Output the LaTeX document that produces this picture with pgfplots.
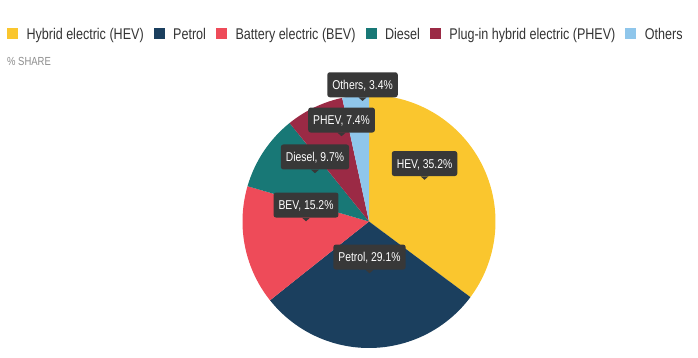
\documentclass[border=0pt]{standalone}
\usepackage{pgfplots}
\pgfplotsset{compat=1.18}
\usepackage{pgfplotstable}
\usepackage{fontspec}
\setmainfont[FakeStretch=0.81]{Liberation Sans}

\definecolor{col0}{HTML}{FAC62E}
\definecolor{col1}{HTML}{1B3F5E}
\definecolor{col2}{HTML}{EE4B59}
\definecolor{col3}{HTML}{187876}
\definecolor{col4}{HTML}{9B2A45}
\definecolor{col5}{HTML}{8FC6EB}
\definecolor{lblbg}{HTML}{383838}
\definecolor{legtext}{HTML}{333333}
\definecolor{sharegray}{HTML}{8C8C8C}

\tikzset{lbl/.style={fill=lblbg, text=white, rounded corners=2.5bp, inner xsep=5bp,
    inner ysep=8bp, text height=9bp, text depth=0bp,
    font=\fontsize{12.8bp}{14bp}\selectfont}}

\pgfplotstableread[col sep=comma]{
label,legend,share,lx,ly
HEV,Hybrid electric (HEV),35.2,0.439,0.458
Petrol,Petrol,29.1,0.004,-0.281
BEV,Battery electric (BEV),15.2,-0.498,0.130
Diesel,Diesel,9.7,-0.427,0.510
PHEV,Plug-in hybrid electric (PHEV),7.4,-0.217,0.802
Others,Others,3.4,-0.051,1.081
}\sharetable

\begin{document}
\begin{tikzpicture}
\useasboundingbox (0,0) rectangle (698bp,358bp);
\node[anchor=base west, inner sep=0pt, text=sharegray, font=\fontsize{11.7bp}{13bp}\selectfont] at (7bp,292bp) {\% SHARE};
\begin{axis}[
  at={(369bp,136.5bp)}, anchor=center,
  scale only axis, width=253bp, height=253bp,
  xmin=-1, xmax=1, ymin=-1, ymax=1,
  hide axis, clip=false,
  legend columns=6,
  legend cell align=left,
  legend image code/.code={\fill[#1] (0bp,-5.5bp) rectangle (11bp,5.5bp);},
  legend style={at={(-0.9308,1.2431)}, anchor=west, draw=none, fill=none,
    inner sep=0pt, outer sep=0pt,
    font=\fontsize{15.5bp}{18bp}\selectfont, text=legtext,
    nodes={inner sep=0pt, text height=11.1bp, text depth=0bp},
    /tikz/every odd column/.style={column sep=8.5bp},
    /tikz/every even column/.style={column sep=10bp}},
]
\def\cum{0}
\pgfplotsforeachungrouped \i in {0,...,5}{%
  \pgfplotstablegetelem{\i}{share}\of\sharetable \let\s\pgfplotsretval
  \pgfplotstablegetelem{\i}{legend}\of\sharetable \let\leg\pgfplotsretval
  \pgfmathsetmacro\a{90-3.6*\cum}%
  \pgfmathsetmacro\cumnew{\cum+\s}%
  \pgfmathsetmacro\b{90-3.6*\cumnew}%
  \let\cum\cumnew
  \edef\cmd{\noexpand\addplot[fill=col\i, draw=none, domain=\b:\a, samples=90]
    ({cos(x)},{sin(x)}) -- (axis cs:0,0) -- cycle;
    \noexpand\addlegendentry{\leg}}%
  \cmd
}
\pgfplotsforeachungrouped \i in {0,...,5}{%
  \pgfplotstablegetelem{\i}{share}\of\sharetable \let\s\pgfplotsretval
  \pgfplotstablegetelem{\i}{label}\of\sharetable \let\lab\pgfplotsretval
  \pgfplotstablegetelem{\i}{lx}\of\sharetable \let\lx\pgfplotsretval
  \pgfplotstablegetelem{\i}{ly}\of\sharetable \let\ly\pgfplotsretval
  \edef\cmdb{\noexpand\node[lbl] (L\i) at (axis cs:\lx,\ly) {\lab, \s\noexpand\%};
    \noexpand\fill[lblbg] ([xshift=-4bp]L\i.south) -- ([xshift=4bp]L\i.south) -- ([yshift=-3.5bp]L\i.south) -- cycle;}%
  \cmdb
}
\end{axis}
\end{tikzpicture}
\end{document}
